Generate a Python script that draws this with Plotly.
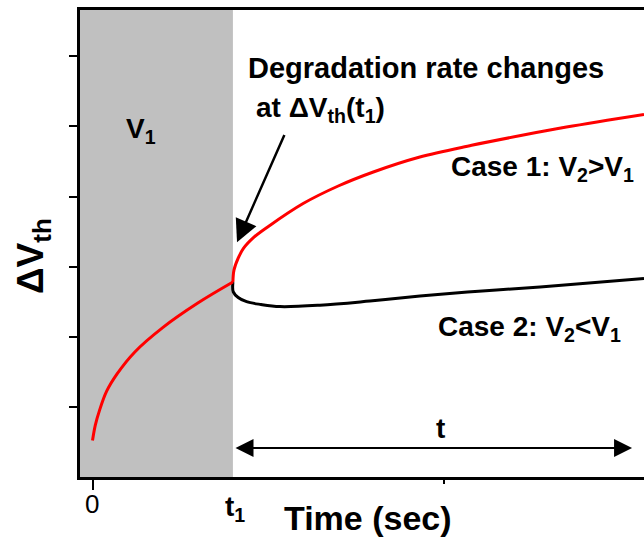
import plotly.graph_objects as go

# Stress phase at V1 (0 .. t1), shared by both cases
t_stress = [0.0, 0.08, 0.2, 0.4, 0.7, 1.2, 2.0, 3.0, 4.0]
dvth_stress = [0.52, 0.74, 0.95, 1.22, 1.47, 1.78, 2.13, 2.48, 2.78]

# Case 1: V2 > V1, degradation accelerates after t1
t_case1 = [4.0, 4.03, 4.15, 4.3, 4.6, 5.0, 6.0, 7.0, 8.0, 9.3, 10.8, 12.2, 13.5, 15.71]
dvth_case1 = [2.78, 2.95, 3.12, 3.26, 3.42, 3.57, 3.90, 4.15, 4.35, 4.56, 4.73, 4.87, 4.99, 5.17]

# Case 2: V2 < V1, partial recovery then slow regrowth
t_case2 = [4.0, 4.01, 4.15, 4.39, 4.8, 5.34, 6.48, 7.9, 9.33, 11.0, 12.75, 15.71]
dvth_case2 = [2.78, 2.64, 2.56, 2.50, 2.46, 2.43, 2.45, 2.51, 2.58, 2.65, 2.71, 2.83]

t1 = 4.0
x_range = [-0.356, 15.71]
y_range = [0, 6.66]
y_ticks = [1, 2, 3, 4, 5, 6]

W, H = 644, 538
L, T, R, B = 80, 10, 644, 477
PW, PH = R - L, B - T

def px(x):
    return (x - L) / PW

def py(y):
    return (B - y) / PH

FONT = "Liberation Sans, Arial, sans-serif"

fig = go.Figure()

fig.add_trace(go.Scatter(x=t_case2, y=dvth_case2, mode="lines",
                         line=dict(color="black", width=3, shape="spline", smoothing=1.0),
                         hoverinfo="skip"))
fig.add_trace(go.Scatter(x=t_case1, y=dvth_case1, mode="lines",
                         line=dict(color="#ff0000", width=3, shape="spline", smoothing=1.0),
                         hoverinfo="skip"))
fig.add_trace(go.Scatter(x=t_stress, y=dvth_stress, mode="lines",
                         line=dict(color="#ff0000", width=3, shape="spline", smoothing=1.0),
                         hoverinfo="skip"))

# grey band for the stress interval at V1
fig.add_shape(type="rect", xref="x", yref="paper", x0=x_range[0], x1=t1, y0=0, y1=1,
              fillcolor="#c0c0c0", line=dict(width=0), layer="below")

ann = []

def text(x, y, s, size=28, bold=True, xanchor="left", yanchor="middle", angle=0):
    ann.append(dict(xref="paper", yref="paper", x=px(x), y=py(y), text=f"<b>{s}</b>" if bold else s,
                    showarrow=False, xanchor=xanchor, yanchor=yanchor, textangle=angle,
                    font=dict(family=FONT, size=size, color="black")))

text(246, 68, "Degradation rate changes", size=29)
text(254, 110, "at \u0394V<sub>th</sub>(t<sub>1</sub>)")
text(124, 130, "V<sub>1</sub>")
text(449, 168, "Case 1: V<sub>2</sub>&gt;V<sub>1</sub>")
text(436, 328, "Case 2: V<sub>2</sub>&lt;V<sub>1</sub>")
text(440, 428, "t", xanchor="center")
text(235, 508, "t<sub>1</sub>", xanchor="center")
text(282, 518, "Time (sec)", size=34)
text(33, 256, "\u0394V<sub>th</sub>", size=37, xanchor="center", angle=-90)
text(92, 504, "0", size=26, bold=False, xanchor="center")

# arrow pointing at the rate change
ann.append(dict(xref="x", yref="y", axref="x", ayref="y",
                x=(237 - 92.5) / 35.1, y=(477 - 242) / 70.2,
                ax=(285 - 92.5) / 35.1, ay=(477 - 133) / 70.2,
                text="", showarrow=True, arrowhead=2, arrowsize=1.8, arrowwidth=2.5,
                arrowcolor="black"))

# double-headed span arrow for t
ann.append(dict(xref="x", yref="y", axref="x", ayref="y",
                x=(632 - 92.5) / 35.1, y=(477 - 448) / 70.2,
                ax=(234 - 92.5) / 35.1, ay=(477 - 448) / 70.2,
                text="", showarrow=True, arrowhead=2, startarrowhead=2, arrowside="end+start",
                arrowsize=1.8, startarrowsize=1.8, arrowwidth=2, arrowcolor="black"))

fig.update_layout(
    width=W, height=H,
    margin=dict(l=L, r=W - R, t=T, b=H - B, pad=0),
    paper_bgcolor="white", plot_bgcolor="white",
    showlegend=False,
    annotations=ann,
    xaxis=dict(range=x_range, showgrid=False, zeroline=False,
               showline=True, linecolor="black", linewidth=3, mirror=True,
               tickvals=[0], showticklabels=False, ticks="outside", ticklen=10, tickwidth=2,
               tickcolor="black",
               minor=dict(tickvals=[10], ticks="outside", ticklen=4, tickwidth=2, tickcolor="black")),
    yaxis=dict(range=y_range, showgrid=False, zeroline=False,
               showline=True, linecolor="black", linewidth=3,
               tickvals=y_ticks, showticklabels=False, ticks="outside", ticklen=8,
               tickwidth=2, tickcolor="black"),
)

fig.write_html("out.html")
